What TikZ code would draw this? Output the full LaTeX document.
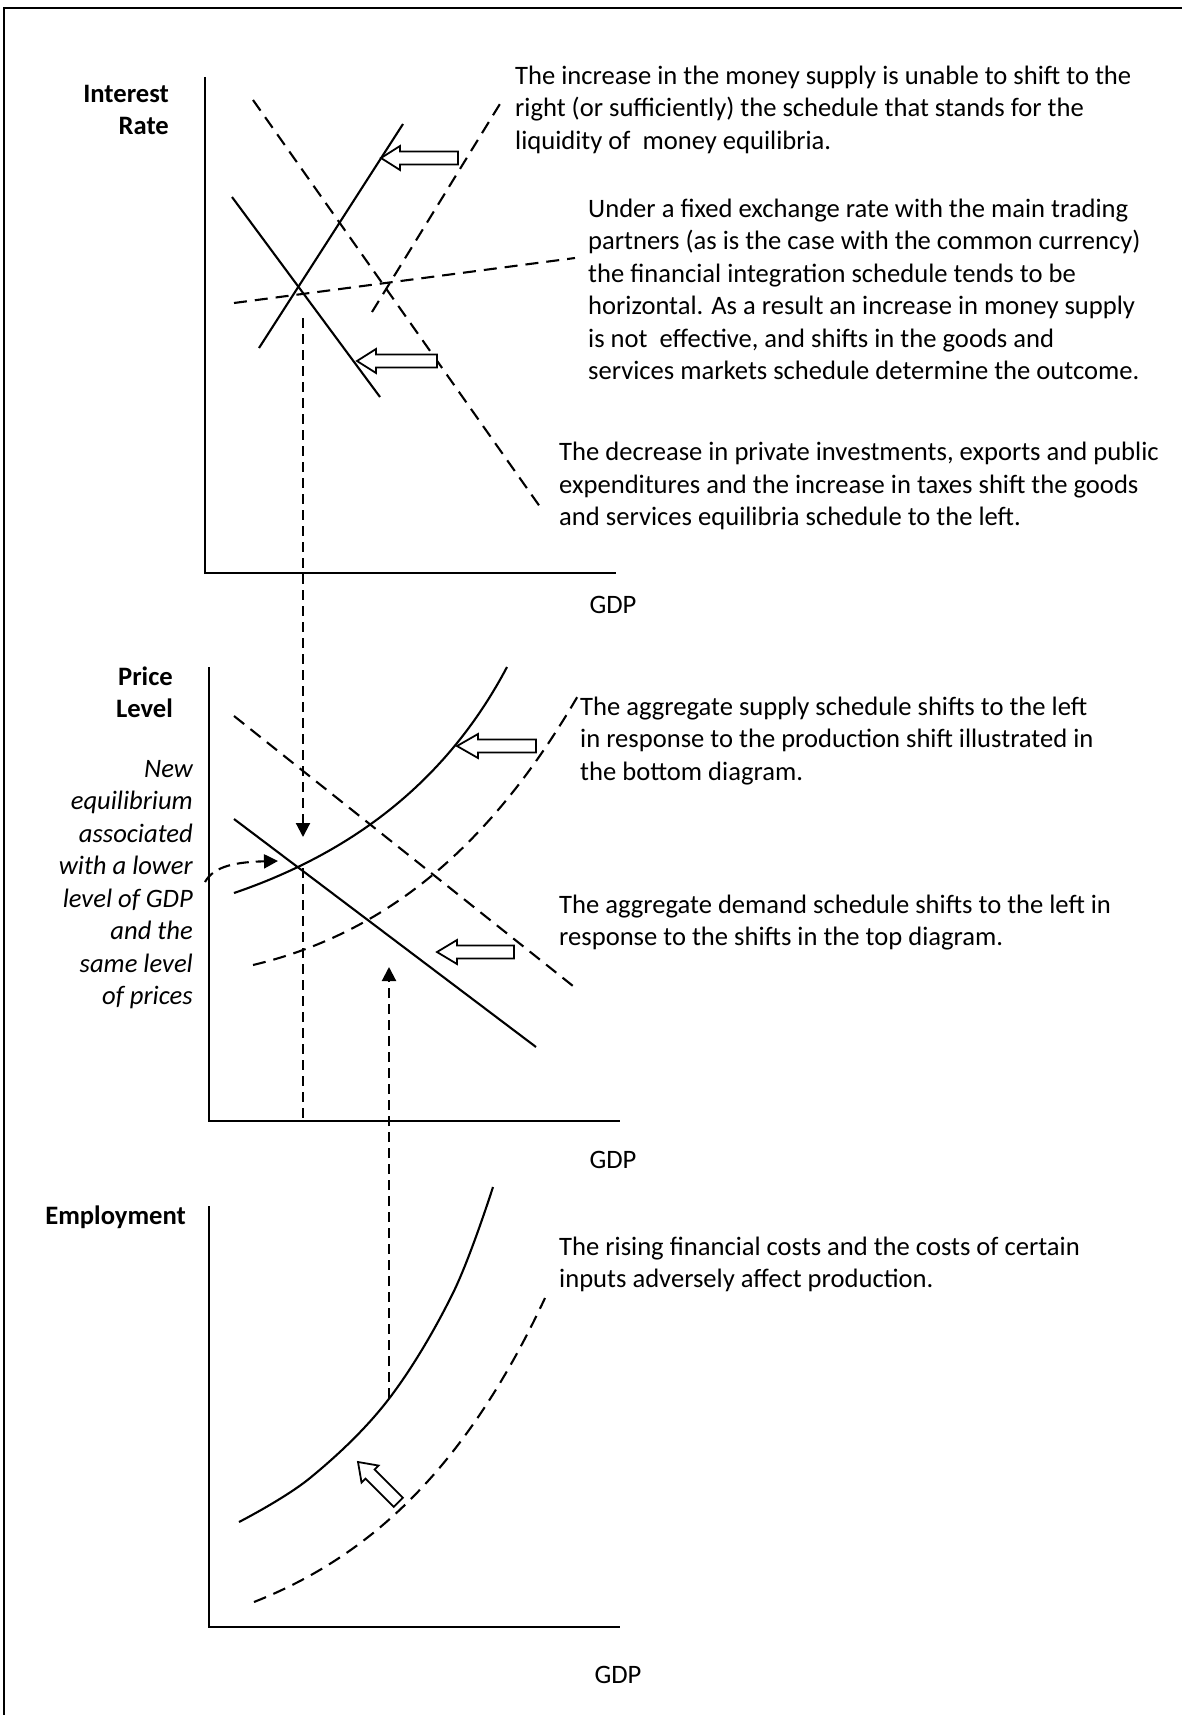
\documentclass[tikz,border=0pt]{standalone}
\usepackage{fontspec}
\setmainfont{Carlito}
\usetikzlibrary{arrows.meta}
\newcommand\hollowarrow[4]{\draw[hollow, shift={#1}, rotate=#2] (0,0) -- (#4,-12) -- (#4,-6.5) -- (#3,-6.5) -- (#3,6.5) -- (#4,6.5) -- (#4,12) -- cycle;}
\newcommand\txtfont{\fontsize{26.6}{32.5}\selectfont}
\begin{document}
\begin{tikzpicture}[x=1pt,y=-1pt,
  curve/.style={line width=2.1pt},
  dcurve/.style={line width=2.1pt, dash pattern=on 13pt off 8pt},
  guide/.style={line width=2.1pt, dash pattern=on 10pt off 6pt},
  axis/.style={line width=2.4pt},
  frame/.style={line width=2.4pt},
  hollow/.style={line width=1.8pt, fill=white, line join=miter},
  tip/.style={-{Triangle[length=14pt,width=14pt]}},
  txt/.style={font=\txtfont, align=left, inner sep=0pt, anchor=north west},
  rtxt/.style={font=\txtfont, align=right, inner sep=0pt, anchor=north east},
  lab/.style={font=\txtfont, inner sep=0pt},
]
\useasboundingbox (0,0) rectangle (1181,1715);
% frame
\draw[frame] (4,1720) -- (4,8) -- (1185,8);

% ================= TOP GRAPH =================
\draw[axis] (205,77) -- (205,573) -- (616,573);
\draw[dcurve] (253,100) -- (543,511);
\draw[curve] (232,197) -- (380,397);
\draw[curve] (259,348) -- (403,124);
\draw[dcurve] (372,312) -- (503,99);
\draw[dcurve] (234,303) -- (575,258);
\hollowarrow{(381,158)}{0}{77}{19}
\hollowarrow{(357,361)}{0}{80}{19}

\node[rtxt, font=\txtfont\bfseries] (ylab1) at (169,79.25) {\strut Interest\\Rate};
\node[lab, anchor=base] (gdp1) at (613,613) {GDP};

\node[txt] (t1) at (515,61.25) {\strut The increase in the money supply is unable to shift to the\\
right (or sufficiently) the schedule that stands for the\\
liquidity of\ \ money equilibria.};
\node[txt] (t2) at (588,194.25) {\strut Under a fixed exchange rate with the main trading\\
partners (as is the case with the common currency)\\
the financial integration schedule tends to be\\
horizontal. As a result an increase in money supply\\
is not\ \ effective, and shifts in the goods and\\
services markets schedule determine the outcome.};
\node[txt] (t3) at (559,437.75) {\strut The decrease in private investments, exports and public\\
expenditures and the increase in taxes shift the goods\\
and services equilibria schedule to the left.};

% ================= MIDDLE GRAPH =================
\draw[axis] (209,667) -- (209,1121) -- (620,1121);
\draw[curve] (234,893) .. controls (360,850) and (450,775) .. (507,667);
\draw[dcurve] (253,965) .. controls (400,930) and (500,830) .. (579,694);
\draw[curve] (234,819) -- (536,1047);
\draw[dcurve] (234,716) -- (573,986);
\hollowarrow{(457,746)}{0}{79}{21}
\hollowarrow{(437,952)}{0}{77}{20}

\node[rtxt, font=\txtfont\bfseries] (ylab2) at (173,662.25) {\strut Price\\Level};
\node[rtxt, font=\txtfont\itshape] (note) at (193,754.25) {\strut New\\equilibrium\\associated\\with a lower\\level of GDP\\and the\\same level\\of prices};
\node[lab, anchor=base] (gdp2) at (613,1168) {GDP};

\node[txt] (t4) at (580,692.25) {\strut The aggregate supply schedule shifts to the left\\
in response to the production shift illustrated in\\
the bottom diagram.};
\node[txt] (t5) at (559,890.25) {\strut The aggregate demand schedule shifts to the left in\\
response to the shifts in the top diagram.};

% ================= BOTTOM GRAPH =================
\draw[axis] (209,1206) -- (209,1627) -- (620,1627);
\draw[curve] plot[smooth, tension=0.6] coordinates {(239,1522) (310,1478) (388,1400) (453,1293) (493,1187)};
\draw[dcurve] (254,1602) .. controls (360,1560) and (460,1480) .. (545,1298);
\hollowarrow{(358,1462)}{-45}{57}{17}

\node[lab, anchor=base east, font=\txtfont\bfseries] (ylab3) at (186,1224) {Employment};
\node[lab, anchor=base] (gdp3) at (618,1683) {GDP};
\node[txt] (t6) at (559,1232.25) {\strut The rising financial costs and the costs of certain\\
inputs adversely affect production.};

% ================= GUIDES =================
\coordinate (topeq) at (303,318);
\coordinate (midtarget) at (303,837);
\coordinate (mideq) at (303,868);
\coordinate (midaxis) at (303,1121);
\coordinate (botpt) at (389,1398);
\coordinate (midtarget2) at (389,967);
\coordinate (notestart) at (205,882);
\coordinate (noteend) at (278,861);
\draw[guide, tip] (topeq) -- (midtarget);
\draw[guide] (mideq) -- (midaxis);
\draw[guide, tip] (botpt) -- (midtarget2);
\draw[guide, dash pattern=on 12pt off 7pt, tip] (notestart) .. controls (214,866) and (236,862) .. (noteend);
\end{tikzpicture}
\end{document}
